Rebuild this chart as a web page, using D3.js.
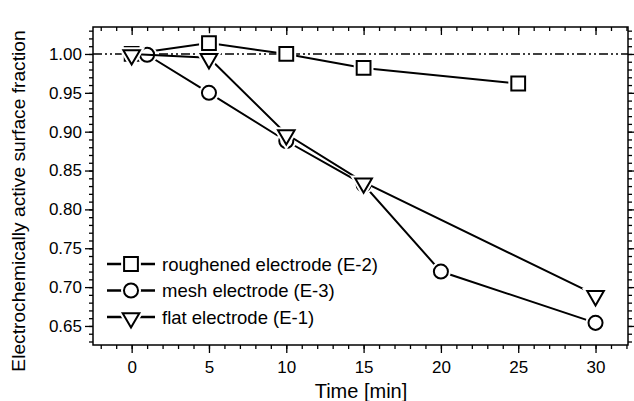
<!DOCTYPE html>
<html>
<head>
<meta charset="utf-8">
<script src="https://cdn.jsdelivr.net/npm/d3@7"></script>
<style>
  body { margin: 0; background: #fff; }
  svg { display: block; font-family: "Liberation Sans", Arial, sans-serif; }
</style>
</head>
<body>
<div class="chart"></div>
<script>
// data
let timeRough = [0, 5, 10, 15, 25];
let valRough  = [1.000, 1.014, 1.000, 0.982, 0.962];
let timeMesh  = [1, 5, 10, 15, 20, 30];
let valMesh   = [0.999, 0.950, 0.888, 0.832, 0.720, 0.654];
let timeFlat  = [0, 5, 10, 15, 30];
let valFlat   = [1.000, 0.995, 0.897, 0.835, 0.690];
let xTicks = [0, 5, 10, 15, 20, 25, 30];
let yTicks = [0.65, 0.70, 0.75, 0.80, 0.85, 0.90, 0.95, 1.00];
let seriesNames = ['roughened electrode (E-2)', 'mesh electrode (E-3)', 'flat electrode (E-1)'];
let seriesShapes = ['square', 'circle', 'triangle'];

let width = 634, height = 401;
let box = { left: 93, top: 27, right: 628, bottom: 345 };

let svg = d3.select('div.chart').append('svg')
  .attr('width', width).attr('height', height);

let x = d3.scaleLinear().domain([-2.5, 32.1]).range([box.left, box.right]);
let y = d3.scaleLinear().domain([0.6255, 1.0347]).range([box.bottom, box.top]);

// frame
svg.append('rect')
  .attr('x', box.left).attr('y', box.top)
  .attr('width', box.right - box.left).attr('height', box.bottom - box.top)
  .attr('fill', 'none').attr('stroke', '#000').attr('stroke-width', 1.5);

let minorX = d3.range(-2, 33, 1);
let minorY = d3.range(63, 104, 1).map(d => d / 100);

// bottom axis (outward)
let bottom = svg.append('g').attr('transform', 'translate(0,' + box.bottom + ')')
  .call(d3.axisBottom(x).tickValues(minorX).tickSize(4).tickFormat(''));
bottom.append('g').call(d3.axisBottom(x).tickValues(xTicks).tickSize(8).tickPadding(8).tickFormat(d3.format('d')));
// top axis (inward)
svg.append('g').attr('transform', 'translate(0,' + box.top + ')')
  .call(d3.axisBottom(x).tickValues(minorX).tickSize(4).tickFormat(''))
  .append('g').call(d3.axisBottom(x).tickValues(xTicks).tickSize(8).tickFormat(''));
// left axis (outward)
let left = svg.append('g').attr('transform', 'translate(' + box.left + ',0)')
  .call(d3.axisLeft(y).tickValues(minorY).tickSize(4).tickFormat(''));
left.append('g').call(d3.axisLeft(y).tickValues(yTicks).tickSize(8).tickPadding(3).tickFormat(d3.format('.2f')));
// right axis (outward)
svg.append('g').attr('transform', 'translate(' + box.right + ',0)')
  .call(d3.axisRight(y).tickValues(minorY).tickSize(4).tickFormat(''))
  .append('g').call(d3.axisRight(y).tickValues(yTicks).tickSize(8).tickFormat(''));

svg.selectAll('.domain').remove();
svg.selectAll('.tick line').attr('stroke', '#000').attr('stroke-width', 1.3);
svg.selectAll('.tick text').attr('fill', '#000').attr('font-size', '17px')
  .attr('font-family', '"Liberation Sans", Arial, sans-serif');

// reference line at 1.00
svg.append('line')
  .attr('x1', box.left).attr('x2', box.right)
  .attr('y1', y(1)).attr('y2', y(1))
  .attr('stroke', '#000').attr('stroke-width', 1.5)
  .attr('stroke-dasharray', '9,3,2,3,2,3');

let symbol = {
  square: d3.symbol().type(d3.symbolSquare).size(190),
  circle: d3.symbol().type(d3.symbolCircle).size(155),
  triangle: d3.symbol().type(d3.symbolTriangle).size(120)
};

function drawMarker(g, shape, cx, cy) {
  let path = symbol[shape]();
  let rot = shape === 'triangle' ? ' rotate(180)' : '';
  let ty = shape === 'triangle' ? cy + 1 : cy;
  g.append('path').attr('d', path)
    .attr('transform', 'translate(' + cx + ',' + ty + ')' + rot)
    .attr('fill', '#fff').attr('stroke', '#fff').attr('stroke-width', 6);
  g.append('path').attr('d', path)
    .attr('transform', 'translate(' + cx + ',' + ty + ')' + rot)
    .attr('fill', '#fff').attr('stroke', '#000').attr('stroke-width', 2);
}

let series = [
  { t: timeRough, v: valRough, shape: 'square' },
  { t: timeMesh, v: valMesh, shape: 'circle' },
  { t: timeFlat, v: valFlat, shape: 'triangle' }
];

let line = d3.line().x(d => x(d[0])).y(d => y(d[1]));

series.forEach(s => {
  let pts = s.t.map((t, i) => [t, s.v[i]]);
  let g = svg.append('g');
  g.append('path').attr('d', line(pts))
    .attr('fill', 'none').attr('stroke', '#000').attr('stroke-width', 2);
  pts.forEach(p => drawMarker(g, s.shape, x(p[0]), y(p[1])));
});

// legend
let legend = svg.append('g');
seriesNames.forEach((name, i) => {
  let ly = 264 + i * 26.5;
  legend.append('line').attr('x1', 107).attr('x2', 155).attr('y1', ly).attr('y2', ly)
    .attr('stroke', '#000').attr('stroke-width', 2.5);
  drawMarker(legend, seriesShapes[i], 131, ly);
  legend.append('text').attr('x', 162).attr('y', ly + 6.5)
    .attr('font-size', '18.5px').text(name);
});

// axis titles
svg.append('text')
  .attr('x', 361).attr('y', 398)
  .attr('text-anchor', 'middle').attr('font-size', '20px')
  .text('Time [min]');

svg.append('text')
  .attr('transform', 'translate(25,201) rotate(-90)')
  .attr('text-anchor', 'middle').attr('font-size', '19.2px')
  .text('Electrochemically active surface fraction');
</script>
</body>
</html>
